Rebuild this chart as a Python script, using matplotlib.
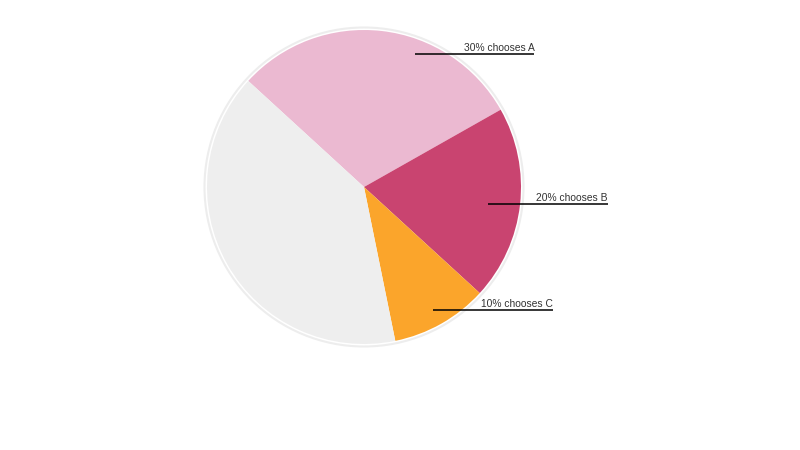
import matplotlib.pyplot as plt
import numpy as np

plt.rcParams['font.family'] = ['Liberation Sans', 'DejaVu Sans']

labels = ["30% chooses A", "20% chooses B", "10% chooses C", ""]
shares = [30, 20, 10, 40]
colors = ["#ebb9d1", "#c94470", "#fba52b", "#eeeeee"]

fig = plt.figure(figsize=(8, 4.5), dpi=100)
ax = fig.add_axes([0, 0, 1, 1])

cx, cy, r = 364, 263, 157
wedges, _ = ax.pie(shares, colors=colors, startangle=137.5, counterclock=False,
                   center=(cx, cy), radius=r, frame=True,
                   wedgeprops=dict(linewidth=0))
ax.set_xlim(0, 800)
ax.set_ylim(0, 450)
ax.set_aspect("equal")
ax.axis("off")

# thin outer ring
ring = plt.Circle((cx, cy), r + 2.5, fill=False, edgecolor="#ededed", linewidth=1.5)
ax.add_patch(ring)

# label anchors (angle in degrees, fraction of radius)
anchors = [(69, 0.905), (-7.7, 0.80), (-60.7, 0.90)]
line_len = 119.5
for lab, (ang, fr) in zip(labels, anchors):
    x0 = cx + fr * r * np.cos(np.radians(ang))
    y0 = cy + fr * r * np.sin(np.radians(ang))
    ax.plot([x0, x0 + line_len], [y0, y0], color="black", linewidth=1.1,
            solid_capstyle="butt")
    ax.text(x0 + line_len, y0 + 1, lab, ha="right", va="bottom",
            fontsize=7.4, color="#333333")

fig.savefig("out.png", dpi=100)
